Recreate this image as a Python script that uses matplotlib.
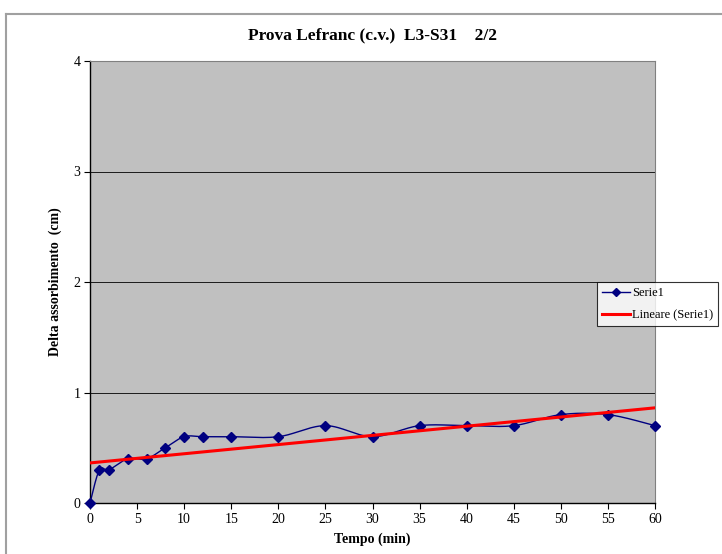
import numpy as np
import matplotlib
matplotlib.use("Agg")
import matplotlib.pyplot as plt
from matplotlib.lines import Line2D

# Measurements
tempo = [0, 1, 2, 4, 6, 8, 10, 12, 15, 20, 25, 30, 35, 40, 45, 50, 55, 60]
delta = [0, 0.3, 0.3, 0.4, 0.4, 0.5, 0.6, 0.6, 0.6, 0.6, 0.7, 0.6, 0.7, 0.7, 0.7, 0.8, 0.8, 0.7]
x_ticks = [0, 5, 10, 15, 20, 25, 30, 35, 40, 45, 50, 55, 60]
y_ticks = [0, 1, 2, 3, 4]

title = "Prova Lefranc (c.v.)  L3-S31    2/2"
x_label = "Tempo (min)"
y_label = "Delta assorbimento  (cm)"


def smooth_curve(xs, ys, n=30):
    """Cubic Bezier smoothing through every point (spreadsheet style)."""
    xs = np.asarray(xs, float)
    ys = np.asarray(ys, float)
    px, py = [], []
    m = len(xs)
    for i in range(m - 1):
        x0, y0 = xs[max(i - 1, 0)], ys[max(i - 1, 0)]
        x1, y1 = xs[i], ys[i]
        x2, y2 = xs[i + 1], ys[i + 1]
        x3, y3 = xs[min(i + 2, m - 1)], ys[min(i + 2, m - 1)]
        c1x, c1y = x1 + (x2 - x0) / 6, y1 + (y2 - y0) / 6
        c2x, c2y = x2 - (x3 - x1) / 6, y2 - (y3 - y1) / 6
        t = np.linspace(0, 1, n)
        a, b, c, d = (1 - t) ** 3, 3 * (1 - t) ** 2 * t, 3 * (1 - t) * t ** 2, t ** 3
        px.extend(a * x1 + b * c1x + c * c2x + d * x2)
        py.extend(a * y1 + b * c1y + c * c2y + d * y2)
    return np.array(px), np.array(py)


plt.rcParams["font.family"] = ["Liberation Serif", "DejaVu Serif"]

W, H = 722, 554
fig = plt.figure(figsize=(W / 100, H / 100), dpi=100)
fig.patch.set_facecolor("white")

# Chart frame (top and left edges visible)
fig.add_artist(Line2D([6 / W, 1], [1 - 14 / H, 1 - 14 / H], color="#a0a0a0", lw=1.5))
fig.add_artist(Line2D([6 / W, 6 / W], [0, 1 - 14 / H], color="#a0a0a0", lw=1.5))

left, right, top, bottom = 90, 655, 61, 503
ax = fig.add_axes([left / W, 1 - bottom / H, (right - left) / W, (bottom - top) / H])
ax.set_facecolor("#c0c0c0")
ax.set_xlim(0, 60)
ax.set_ylim(0, 4)
ax.set_xticks(x_ticks)
ax.set_yticks(y_ticks)
ax.tick_params(axis="both", direction="out", length=4, width=0.8, labelsize=10, pad=3,
               color="black")
for s in ax.spines.values():
    s.set_color("#808080")
    s.set_linewidth(0.8)
ax.spines["left"].set_color("black")
ax.spines["bottom"].set_color("black")
ax.spines["left"].set_linewidth(1.0)
ax.spines["bottom"].set_linewidth(1.0)
ax.grid(axis="y", color="black", lw=0.6)
ax.set_axisbelow(True)

sx, sy = smooth_curve(tempo, delta)
ax.plot(sx, sy, color="#000080", lw=1.0, zorder=3, clip_on=False)
ax.plot(tempo, delta, linestyle="none", marker="D", ms=5, color="#000080", zorder=4,
        clip_on=False)

slope, intercept = np.polyfit(tempo, delta, 1)
tx = np.array([0, 60])
ax.plot(tx, slope * tx + intercept, color="#ff0000", lw=2.2, zorder=5)

ax.set_xlabel(x_label, fontsize=10, fontweight="bold", labelpad=5)
ax.set_ylabel(y_label, fontsize=10, fontweight="bold", labelpad=8)
fig.text((left + right) / 2 / W, 1 - 35 / H, title, ha="center", va="center",
         fontsize=12.5, fontweight="bold")

handles = [
    Line2D([], [], color="#000080", lw=1.0, marker="D", ms=4),
    Line2D([], [], color="#ff0000", lw=2.2),
]
leg = fig.legend(handles, ["Serie1", "Lineare (Serie1)"], loc="upper left",
                 bbox_to_anchor=(597 / W, 1 - 282 / H), fontsize=9, frameon=True,
                 fancybox=False, edgecolor="black", borderpad=0.4, handlelength=2.2,
                 handletextpad=0.2, labelspacing=0.8, borderaxespad=0)
leg.get_frame().set_linewidth(0.8)

fig.savefig("out.png", dpi=100)
